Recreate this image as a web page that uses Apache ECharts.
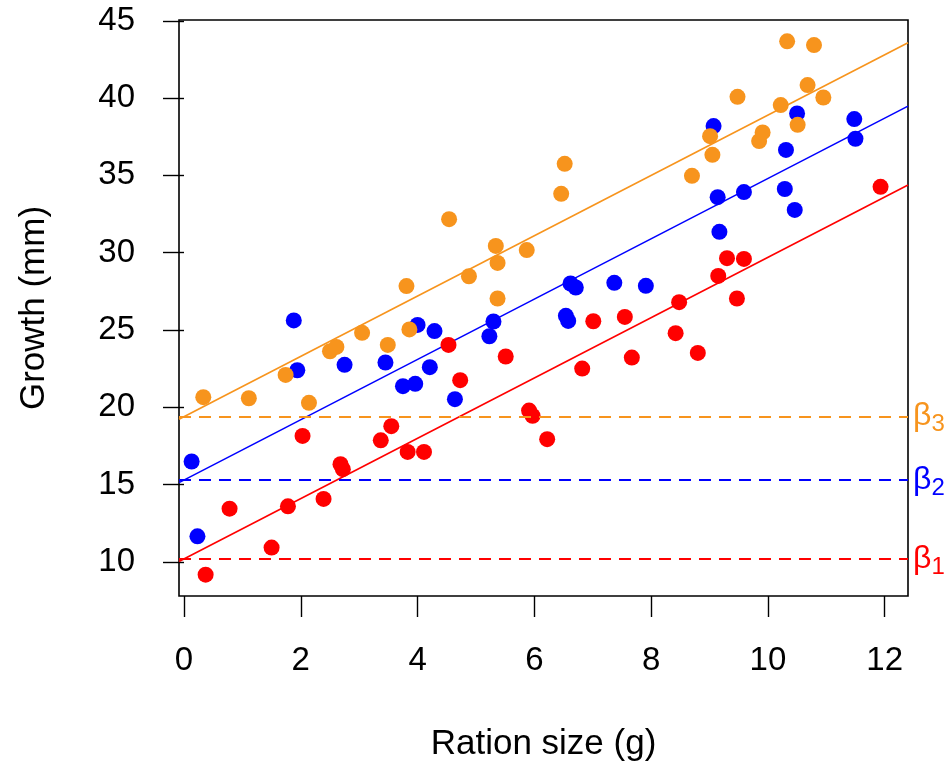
<!DOCTYPE html>
<html>
<head>
<meta charset="utf-8">
<script src="https://cdn.jsdelivr.net/npm/echarts@6/dist/echarts.min.js"></script>
<style>
    html, body { margin: 0; padding: 0; background: #fff; }
    #growthChart { width: 951px; height: 767px; }
</style>
</head>
<body>
<div id="growthChart"></div>
<script>
// tick labels
var xTicks = [0, 2, 4, 6, 8, 10, 12];
var yTicks = [10, 15, 20, 25, 30, 35, 40, 45];

// group 1 (red)
var redX = [0.37, 0.78, 1.50, 1.78, 2.03, 2.39, 2.68, 2.72, 3.37, 3.55, 3.83, 4.11, 4.53, 4.73, 5.51,
    5.91, 5.97, 6.22, 6.82, 7.01, 7.55, 7.67, 8.42, 8.48, 8.80, 9.15, 9.30, 9.47, 9.59, 11.93];
var redY = [9.18, 13.45, 10.93, 13.60, 18.15, 14.08, 16.32, 16.00, 17.87, 18.78, 17.12, 17.12, 24.04, 21.76, 23.29,
    19.79, 19.45, 17.94, 22.51, 25.57, 25.85, 23.22, 24.80, 26.80, 23.52, 28.50, 29.65, 27.04, 29.60, 34.26];

// group 2 (blue)
var blueX = [0.13, 0.23, 1.88, 1.94, 2.75, 3.45, 3.75, 3.96, 4.00, 4.21, 4.29, 4.64, 5.23, 5.30, 6.54,
    6.58, 6.62, 6.71, 7.37, 7.91, 9.07, 9.14, 9.17, 9.59, 10.29, 10.31, 10.46, 10.50, 11.48, 11.50];
var blueY = [16.50, 11.66, 25.62, 22.40, 22.75, 22.90, 21.37, 21.52, 25.33, 22.60, 24.93, 20.53, 24.60, 25.55, 25.92,
    25.59, 28.01, 27.75, 28.05, 27.86, 38.19, 33.59, 31.35, 33.92, 34.12, 36.65, 32.77, 39.01, 38.64, 37.37];

// group 3 (orange)
var orangeX = [0.33, 1.11, 1.74, 2.14, 2.50, 2.61, 3.05, 3.49, 3.81, 3.86, 4.54, 4.88, 5.34, 5.37, 5.37,
    5.87, 6.46, 6.52, 8.70, 9.01, 9.05, 9.48, 9.85, 9.91, 10.22, 10.33, 10.51, 10.68, 10.79, 10.95];
var orangeY = [20.66, 20.59, 22.10, 20.29, 23.63, 23.91, 24.82, 24.04, 27.84, 25.04, 32.17, 28.48, 30.44, 29.34, 27.04,
    30.17, 33.81, 35.75, 34.97, 37.54, 36.33, 40.08, 37.22, 37.78, 39.55, 43.67, 38.27, 40.84, 43.43, 40.04];

// fitted model: common slope, one intercept per group
var intercepts = [10.2, 15.3, 19.4];
var slope = 1.95;
var groupColors = ['#ff0000', '#0000ff', '#f7941d'];
var betaNames = ['1', '2', '3'];

var xMin = -0.086, xMax = 12.40;
var yMin = 7.80, yMax = 45.05;
var fontName = '"Liberation Sans", Arial, Helvetica, sans-serif';

function pairs(xs, ys) {
    var res = [];
    for (var i = 0; i < xs.length; i++) {
        res.push([xs[i], ys[i]]);
    }
    return res;
}

//回归线 + 截距虚线
function fitLine(k) {
    var b = intercepts[k];
    return {
        type: 'line',
        z: 1,
        symbol: 'none',
        silent: true,
        lineStyle: { color: groupColors[k], width: 1.6 },
        data: [[xMin, b + slope * xMin], [xMax, b + slope * xMax]],
        markLine: {
            silent: true,
            symbol: 'none',
            lineStyle: { color: groupColors[k], width: 1.8, type: [12, 8] },
            label: {
                show: true,
                position: 'end',
                distance: 5,
                formatter: '{b|β}{s|' + betaNames[k] + '}',
                rich: {
                    b: { fontSize: 32, color: groupColors[k], fontFamily: fontName },
                    s: { fontSize: 24, color: groupColors[k], fontFamily: fontName, padding: [16, 0, 0, 0] }
                }
            },
            data: [{ yAxis: b }]
        }
    };
}

//散点
function dots(xs, ys, k) {
    return {
        type: 'scatter',
        z: 3,
        symbol: 'circle',
        symbolSize: 16,
        itemStyle: { color: groupColors[k], opacity: 1 },
        data: pairs(xs, ys)
    };
}

var myChart = echarts.init(document.getElementById('growthChart'));
var option = {
    animation: false,
    backgroundColor: '#ffffff',
    textStyle: { fontFamily: fontName },
    grid: {
        left: 179,
        right: 43,
        top: 20,
        bottom: 171,
        show: true,
        borderColor: '#000',
        borderWidth: 1.6,
        backgroundColor: 'transparent'
    },
    xAxis: {
        type: 'value',
        min: xMin,
        max: xMax,
        name: 'Ration size (g)',
        nameLocation: 'middle',
        nameGap: 131,
        nameTextStyle: { fontSize: 35, color: '#000', fontFamily: fontName },
        axisLine: { show: false },
        splitLine: { show: false },
        axisTick: { show: true, inside: false, length: 21, customValues: xTicks, lineStyle: { color: '#000', width: 1.4 } },
        axisLabel: { margin: 48, fontSize: 33, color: '#000', fontFamily: fontName, customValues: xTicks }
    },
    yAxis: {
        type: 'value',
        min: yMin,
        max: yMax,
        name: 'Growth (mm)',
        nameLocation: 'middle',
        nameGap: 127,
        nameTextStyle: { fontSize: 35, color: '#000', fontFamily: fontName },
        axisLine: { show: false },
        splitLine: { show: false },
        axisTick: { show: true, inside: false, length: 21, customValues: yTicks, lineStyle: { color: '#000', width: 1.4 } },
        axisLabel: { margin: 44, fontSize: 33, color: '#000', fontFamily: fontName, customValues: yTicks }
    },
    series: [
        fitLine(0),
        fitLine(1),
        fitLine(2),
        dots(redX, redY, 0),
        dots(blueX, blueY, 1),
        dots(orangeX, orangeY, 2)
    ]
};
myChart.setOption(option, true);
</script>
</body>
</html>
